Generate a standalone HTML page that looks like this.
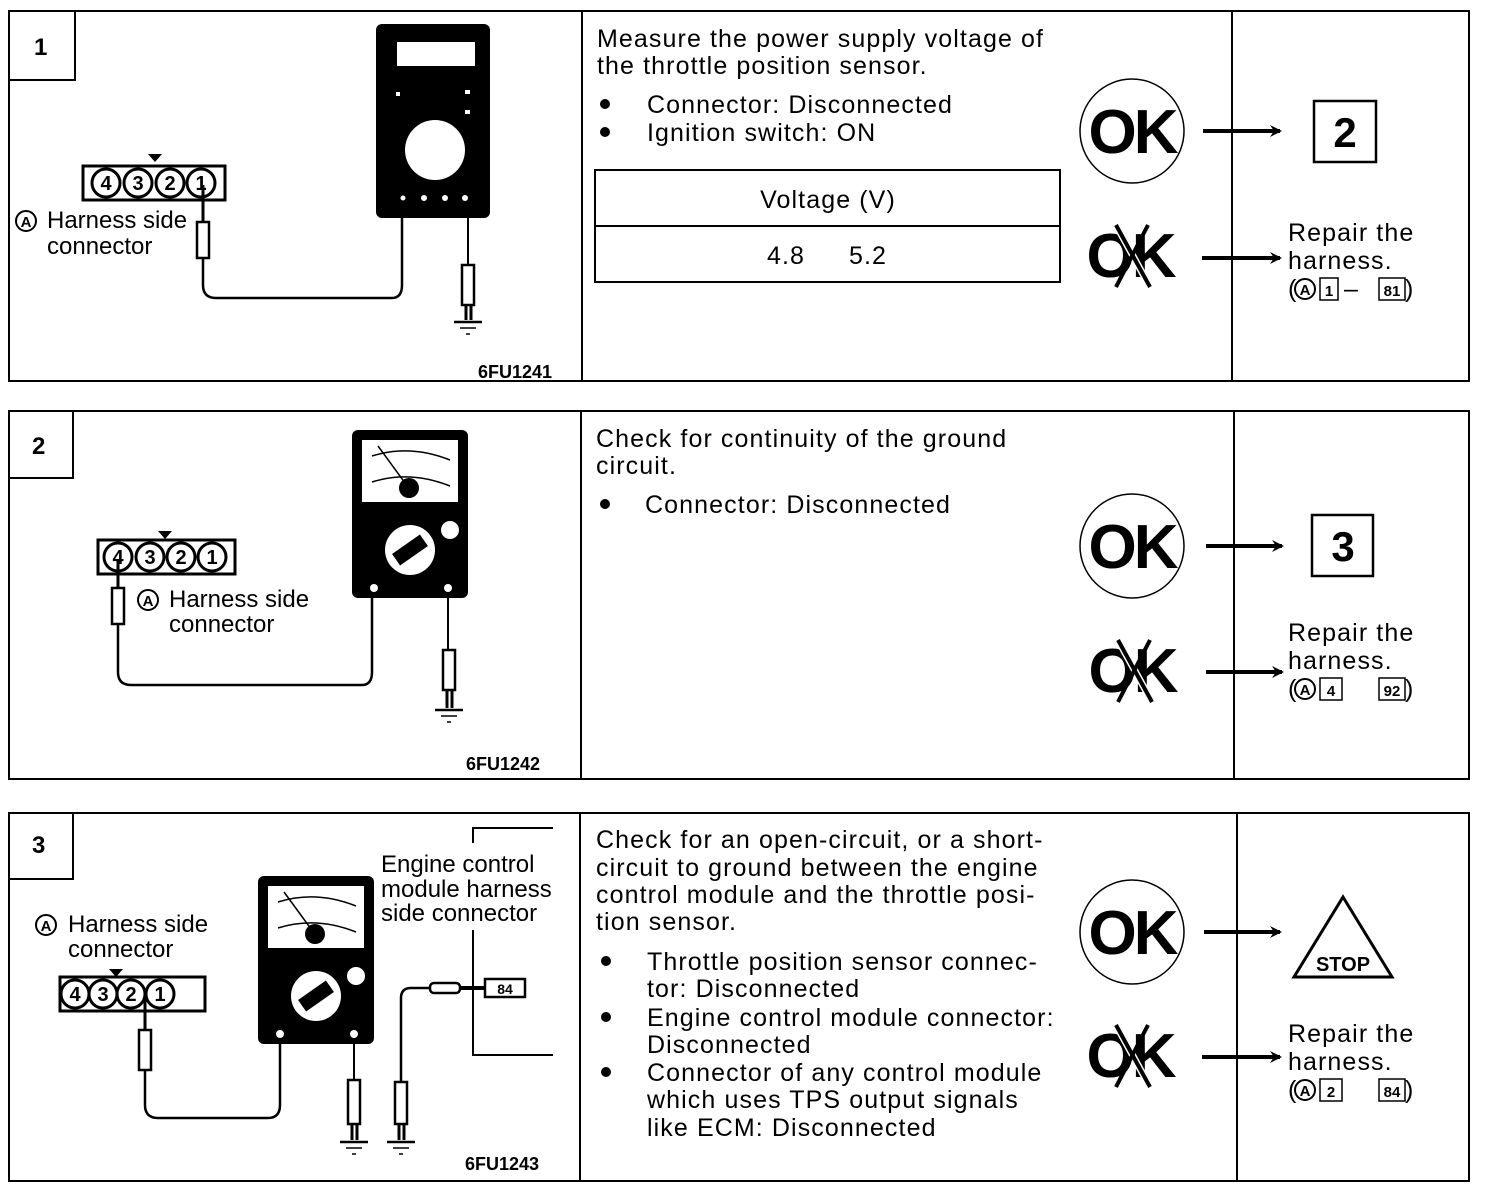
<!DOCTYPE html>
<html><head><meta charset="utf-8"><style>
html,body{margin:0;padding:0;background:#fff;}
svg{display:block;}
text{font-family:"Liberation Sans",sans-serif;fill:#000;}
.t{font-size:25px;letter-spacing:1.1px;}
.l{font-size:24px;}
.b{font-weight:bold;}
</style></head><body>
<svg width="1488" height="1190" viewBox="0 0 1488 1190" xmlns="http://www.w3.org/2000/svg">
<defs>
<marker id="ah" markerWidth="12" markerHeight="12" refX="10" refY="6" orient="auto" markerUnits="userSpaceOnUse">
<path d="M0,0 L12,6 L0,12 L4,6 Z" fill="#000"/>
</marker>
<g id="ok">
<circle cx="0" cy="0" r="52" fill="none" stroke="#000" stroke-width="1.5"/>
<text x="0" y="22" text-anchor="middle" class="b" style="font-size:62px;letter-spacing:-3px">OK</text>
</g>
<g id="ng">
<text x="0" y="22" text-anchor="middle" class="b" style="font-size:62px;letter-spacing:-3px">OK</text>
<line x1="-14" y1="-30" x2="20" y2="32" stroke="#fff" stroke-width="7"/>
<line x1="-14" y1="-30" x2="20" y2="32" stroke="#000" stroke-width="4"/>
<line x1="18" y1="-30" x2="-14" y2="32" stroke="#000" stroke-width="4"/>
</g>
<g id="gnd">
<line x1="-14" y1="0" x2="14" y2="0" stroke="#000" stroke-width="2.5"/>
<line x1="-8" y1="6" x2="8" y2="6" stroke="#000" stroke-width="1.5"/>
<line x1="-2" y1="12" x2="2" y2="12" stroke="#000" stroke-width="1.5"/>
</g>
<g id="ca">
<circle cx="0" cy="0" r="10" fill="none" stroke="#000" stroke-width="2"/>
<text x="0" y="6" text-anchor="middle" class="b" style="font-size:15px">A</text>
</g>
</defs>

<!-- ===== Panel 1 ===== -->
<rect x="9" y="11" width="1460" height="370" fill="none" stroke="#000" stroke-width="2"/>
<polyline points="9,80 75,80 75,11" fill="none" stroke="#000" stroke-width="2"/>
<text x="34" y="55" class="b" style="font-size:24px">1</text>
<line x1="582" y1="11" x2="582" y2="381" stroke="#000" stroke-width="2"/>
<line x1="1232" y1="11" x2="1232" y2="381" stroke="#000" stroke-width="2"/>
<rect x="376" y="24" width="114" height="194" rx="6" fill="#000"/>
<rect x="397" y="42" width="78" height="24" fill="#fff"/>
<circle cx="435" cy="150" r="30" fill="#fff"/>
<rect x="396" y="92" width="4" height="4" fill="#fff"/><rect x="465" y="90" width="5" height="4" fill="#fff"/><rect x="465" y="110" width="5" height="4" fill="#fff"/>
<circle cx="403" cy="198" r="2.5" fill="#fff"/><circle cx="424" cy="198" r="3" fill="#fff"/><circle cx="445" cy="198" r="3" fill="#fff"/><circle cx="465" cy="198" r="3" fill="#fff"/>
<polygon points="148,154 162,154 155,162" fill="#000"/>
<rect x="83" y="166" width="142" height="34" fill="#fff" stroke="#000" stroke-width="3"/>
<g fill="#fff" stroke="#000" stroke-width="3">
<circle cx="106" cy="183" r="14"/><circle cx="138" cy="183" r="14"/><circle cx="170" cy="183" r="14"/><circle cx="201" cy="183" r="14"/>
</g>
<g class="b" style="font-size:20px" text-anchor="middle"><text x="106" y="190">4</text><text x="138" y="190">3</text><text x="170" y="190">2</text><text x="201" y="190">1</text></g>
<line x1="203" y1="185" x2="203" y2="222" stroke="#000" stroke-width="3"/>
<rect x="197" y="222" width="12" height="36" fill="#fff" stroke="#000" stroke-width="2.5"/>
<path d="M203,258 V285 Q203,298 216,298 H392 Q402,298 402,285 V218" fill="none" stroke="#000" stroke-width="2.5"/>
<line x1="468" y1="218" x2="468" y2="265" stroke="#000" stroke-width="2"/>
<rect x="462" y="265" width="12" height="40" fill="#fff" stroke="#000" stroke-width="2.5"/>
<line x1="466" y1="305" x2="466" y2="320" stroke="#000" stroke-width="3"/><line x1="471" y1="305" x2="471" y2="320" stroke="#000" stroke-width="3"/>
<use href="#gnd" x="468" y="322"/>
<use href="#ca" x="26" y="221"/>
<text x="47" y="228" class="l">Harness side</text>
<text x="47" y="254" class="l">connector</text>
<text x="478" y="378" class="b" style="font-size:18px">6FU1241</text>
<text x="597" y="47" class="t">Measure the power supply voltage of</text>
<text x="597" y="74" class="t">the throttle position sensor.</text>
<circle cx="605" cy="104" r="5" fill="#000"/><text x="647" y="113" class="t">Connector: Disconnected</text>
<circle cx="605" cy="132" r="5" fill="#000"/><text x="647" y="141" class="t">Ignition switch: ON</text>
<rect x="595" y="170" width="465" height="112" fill="none" stroke="#000" stroke-width="2"/>
<line x1="595" y1="226" x2="1060" y2="226" stroke="#000" stroke-width="2"/>
<text x="828" y="208" text-anchor="middle" class="t">Voltage  (V)</text>
<text x="767" y="264" class="t">4.8</text><text x="849" y="264" class="t">5.2</text>
<use href="#ok" x="1132" y="131"/>
<line x1="1203" y1="131" x2="1280" y2="131" stroke="#000" stroke-width="4" marker-end="url(#ah)"/>
<rect x="1314" y="101" width="62" height="61" fill="none" stroke="#000" stroke-width="2.5"/>
<text x="1345" y="147" text-anchor="middle" class="b" style="font-size:42px">2</text>
<use href="#ng" x="1130" y="255"/>
<line x1="1202" y1="258" x2="1280" y2="258" stroke="#000" stroke-width="4" marker-end="url(#ah)"/>
<text x="1288" y="241" class="t">Repair the</text>
<text x="1288" y="269" class="t">harness.</text>
<text x="1288" y="297" class="t">(</text><use href="#ca" x="1305" y="289"/>
<rect x="1320" y="278" width="18" height="22" fill="none" stroke="#000" stroke-width="1.5"/><text x="1329" y="296" text-anchor="middle" class="b" style="font-size:15px">1</text>
<text x="1344" y="297" class="t">–</text>
<rect x="1379" y="278" width="26" height="22" fill="none" stroke="#000" stroke-width="1.5"/><text x="1392" y="296" text-anchor="middle" class="b" style="font-size:15px">81</text>
<text x="1405" y="297" class="t">)</text>

<!-- ===== Panel 2 ===== -->
<rect x="9" y="411" width="1460" height="368" fill="none" stroke="#000" stroke-width="2"/>
<polyline points="9,478 73,478 73,411" fill="none" stroke="#000" stroke-width="2"/>
<text x="32" y="454" class="b" style="font-size:24px">2</text>
<line x1="581" y1="411" x2="581" y2="779" stroke="#000" stroke-width="2"/>
<line x1="1234" y1="411" x2="1234" y2="779" stroke="#000" stroke-width="2"/>
<g id="am">
<rect x="352" y="430" width="116" height="168" rx="6" fill="#000"/>
<rect x="362" y="440" width="96" height="62" fill="#fff"/>
<path d="M372,456 Q410,444 450,460 M372,482 Q410,470 450,486" fill="none" stroke="#000" stroke-width="1.5"/>
<line x1="378" y1="446" x2="408" y2="487" stroke="#000" stroke-width="1.5"/>
<circle cx="409" cy="488" r="10" fill="#000"/>
<circle cx="410" cy="550" r="25" fill="#fff"/>
<rect x="393" y="543" width="34" height="14" fill="#000" transform="rotate(-35 410 550)"/>
<circle cx="450" cy="530" r="9" fill="#fff"/>
<circle cx="374" cy="588" r="4" fill="#fff"/><circle cx="448" cy="588" r="4" fill="#fff"/>
</g>
<polygon points="158,531 172,531 165,539" fill="#000"/>
<rect x="98" y="540" width="137" height="34" fill="#fff" stroke="#000" stroke-width="3"/>
<g fill="#fff" stroke="#000" stroke-width="3">
<circle cx="118" cy="557" r="14"/><circle cx="150" cy="557" r="14"/><circle cx="181" cy="557" r="14"/><circle cx="212" cy="557" r="14"/>
</g>
<g class="b" style="font-size:20px" text-anchor="middle"><text x="118" y="564">4</text><text x="150" y="564">3</text><text x="181" y="564">2</text><text x="212" y="564">1</text></g>
<line x1="118" y1="560" x2="118" y2="588" stroke="#000" stroke-width="3"/>
<rect x="112" y="588" width="12" height="36" fill="#fff" stroke="#000" stroke-width="2.5"/>
<path d="M118,624 V672 Q118,685 131,685 H362 Q372,685 372,672 V598" fill="none" stroke="#000" stroke-width="2.5"/>
<line x1="448" y1="598" x2="448" y2="650" stroke="#000" stroke-width="2"/>
<rect x="443" y="650" width="12" height="40" fill="#fff" stroke="#000" stroke-width="2.5"/>
<line x1="447" y1="690" x2="447" y2="708" stroke="#000" stroke-width="3"/><line x1="452" y1="690" x2="452" y2="708" stroke="#000" stroke-width="3"/>
<use href="#gnd" x="449" y="710"/>
<use href="#ca" x="148" y="600"/>
<text x="169" y="607" class="l">Harness side</text>
<text x="169" y="632" class="l">connector</text>
<text x="466" y="770" class="b" style="font-size:18px">6FU1242</text>
<text x="596" y="447" class="t">Check for continuity of the ground</text>
<text x="596" y="474" class="t">circuit.</text>
<circle cx="605" cy="504" r="5" fill="#000"/><text x="645" y="513" class="t">Connector: Disconnected</text>
<use href="#ok" x="1132" y="546"/>
<line x1="1206" y1="546" x2="1282" y2="546" stroke="#000" stroke-width="4" marker-end="url(#ah)"/>
<rect x="1312" y="515" width="61" height="61" fill="none" stroke="#000" stroke-width="2.5"/>
<text x="1343" y="561" text-anchor="middle" class="b" style="font-size:42px">3</text>
<use href="#ng" x="1132" y="670"/>
<line x1="1206" y1="672" x2="1282" y2="672" stroke="#000" stroke-width="4" marker-end="url(#ah)"/>
<text x="1288" y="641" class="t">Repair the</text>
<text x="1288" y="669" class="t">harness.</text>
<text x="1288" y="697" class="t">(</text><use href="#ca" x="1305" y="689"/>
<rect x="1320" y="678" width="22" height="22" fill="none" stroke="#000" stroke-width="1.5"/><text x="1331" y="696" text-anchor="middle" class="b" style="font-size:15px">4</text>
<rect x="1379" y="678" width="26" height="22" fill="none" stroke="#000" stroke-width="1.5"/><text x="1392" y="696" text-anchor="middle" class="b" style="font-size:15px">92</text>
<text x="1405" y="697" class="t">)</text>

<!-- ===== Panel 3 ===== -->
<rect x="9" y="813" width="1460" height="368" fill="none" stroke="#000" stroke-width="2"/>
<polyline points="9,879 73,879 73,813" fill="none" stroke="#000" stroke-width="2"/>
<text x="32" y="853" class="b" style="font-size:24px">3</text>
<line x1="580" y1="813" x2="580" y2="1181" stroke="#000" stroke-width="2"/>
<line x1="1237" y1="813" x2="1237" y2="1181" stroke="#000" stroke-width="2"/>
<use href="#am" x="-94" y="446"/>
<polygon points="109,969 123,969 116,977" fill="#000"/>
<rect x="60" y="977" width="145" height="34" fill="#fff" stroke="#000" stroke-width="3"/>
<g fill="#fff" stroke="#000" stroke-width="3">
<circle cx="75" cy="994" r="14"/><circle cx="103" cy="994" r="14"/><circle cx="131" cy="994" r="14"/><circle cx="160" cy="994" r="14"/>
</g>
<g class="b" style="font-size:20px" text-anchor="middle"><text x="75" y="1001">4</text><text x="103" y="1001">3</text><text x="131" y="1001">2</text><text x="160" y="1001">1</text></g>
<line x1="145" y1="997" x2="145" y2="1030" stroke="#000" stroke-width="3"/>
<rect x="139" y="1030" width="12" height="40" fill="#fff" stroke="#000" stroke-width="2.5"/>
<path d="M145,1070 V1105 Q145,1118 158,1118 H268 Q280,1118 280,1105 V1044" fill="none" stroke="#000" stroke-width="2.5"/>
<line x1="354" y1="1044" x2="354" y2="1080" stroke="#000" stroke-width="2"/>
<rect x="348" y="1080" width="12" height="44" fill="#fff" stroke="#000" stroke-width="2.5"/>
<line x1="352" y1="1124" x2="352" y2="1140" stroke="#000" stroke-width="3"/><line x1="357" y1="1124" x2="357" y2="1140" stroke="#000" stroke-width="3"/>
<use href="#gnd" x="354" y="1142"/>
<rect x="395" y="1082" width="12" height="42" fill="#fff" stroke="#000" stroke-width="2.5"/>
<line x1="399" y1="1124" x2="399" y2="1140" stroke="#000" stroke-width="3"/><line x1="404" y1="1124" x2="404" y2="1140" stroke="#000" stroke-width="3"/>
<use href="#gnd" x="401" y="1142"/>
<path d="M401,1082 V998 Q401,988 411,988 H430" fill="none" stroke="#000" stroke-width="2.5"/>
<rect x="430" y="983" width="30" height="10" rx="4" fill="#fff" stroke="#000" stroke-width="2.5"/>
<line x1="460" y1="988" x2="485" y2="988" stroke="#000" stroke-width="4"/>
<rect x="485" y="979" width="40" height="18" fill="#fff" stroke="#000" stroke-width="2.5"/>
<text x="505" y="994" text-anchor="middle" class="b" style="font-size:14px">84</text>
<polyline points="473,843 473,828 553,828" fill="none" stroke="#000" stroke-width="2"/>
<polyline points="473,930 473,1055 553,1055" fill="none" stroke="#000" stroke-width="2"/>
<text x="381" y="872" class="l">Engine control</text>
<text x="381" y="897" class="l">module harness</text>
<text x="381" y="921" class="l">side connector</text>
<use href="#ca" x="46" y="925"/>
<text x="68" y="932" class="l">Harness side</text>
<text x="68" y="957" class="l">connector</text>
<text x="465" y="1170" class="b" style="font-size:18px">6FU1243</text>

<text x="596" y="848" class="t">Check for an open-circuit, or a short-</text>
<text x="596" y="876" class="t">circuit to ground between the engine</text>
<text x="596" y="903" class="t">control module and the throttle posi-</text>
<text x="596" y="930" class="t">tion sensor.</text>
<circle cx="606" cy="961" r="5" fill="#000"/><text x="647" y="970" class="t">Throttle position sensor connec-</text>
<text x="647" y="997" class="t">tor: Disconnected</text>
<circle cx="606" cy="1017" r="5" fill="#000"/><text x="647" y="1026" class="t">Engine control module connector:</text>
<text x="647" y="1053" class="t">Disconnected</text>
<circle cx="606" cy="1072" r="5" fill="#000"/><text x="647" y="1081" class="t">Connector of any control module</text>
<text x="647" y="1108" class="t">which uses TPS output signals</text>
<text x="647" y="1136" class="t">like ECM: Disconnected</text>
<use href="#ok" x="1132" y="932"/>
<line x1="1204" y1="932" x2="1280" y2="932" stroke="#000" stroke-width="4" marker-end="url(#ah)"/>
<polygon points="1343,897 1392,977 1294,977" fill="none" stroke="#000" stroke-width="3"/>
<text x="1343" y="971" text-anchor="middle" class="b" style="font-size:20px">STOP</text>
<use href="#ng" x="1130" y="1055"/>
<line x1="1202" y1="1057" x2="1280" y2="1057" stroke="#000" stroke-width="4" marker-end="url(#ah)"/>
<text x="1288" y="1042" class="t">Repair the</text>
<text x="1288" y="1070" class="t">harness.</text>
<text x="1288" y="1098" class="t">(</text><use href="#ca" x="1305" y="1090"/>
<rect x="1320" y="1079" width="22" height="22" fill="none" stroke="#000" stroke-width="1.5"/><text x="1331" y="1097" text-anchor="middle" class="b" style="font-size:15px">2</text>
<rect x="1379" y="1079" width="26" height="22" fill="none" stroke="#000" stroke-width="1.5"/><text x="1392" y="1097" text-anchor="middle" class="b" style="font-size:15px">84</text>
<text x="1405" y="1098" class="t">)</text>
</svg>
</body></html>
